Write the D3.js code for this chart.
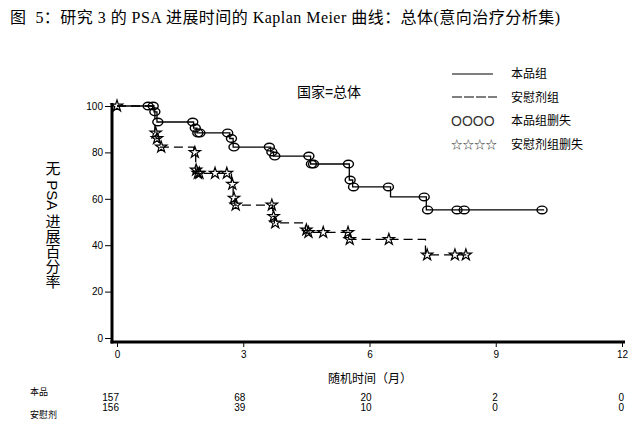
<!DOCTYPE html>
<html><head><meta charset="utf-8">
<script src="https://cdn.jsdelivr.net/npm/d3@7"></script>
<style>body{margin:0;background:#fff}</style>
</head><body><svg id="c" width="643" height="431"></svg>
<script>
const xTicks=[0,3,6,9,12];
const yTicks=[0,20,40,60,80,100];
const trtTimes=[0,0.88,0.95,1.82,1.9,2.68,2.76,3.65,3.72,4.6,5.52,5.6,6.5,7.35];
const trtSurv=[100,97.5,93.1,90.5,88.4,86,82.3,80.2,78.4,75,68.1,65.1,60.8,55.2];
const trtEnd=10.15;
const pboTimes=[0,0.9,0.93,1.0,1.83,1.87,1.9,2.72,2.76,2.8,3.7,3.74,4.48,4.52,5.51,7.33];
const pboSurv=[100,88.4,86,82.3,80,72.4,71,66.3,60.3,57.3,52.4,49.6,46.6,45.5,42.5,35.8];
const pboEnd=8.3;
const trtCens=[0.74,0.86,0.9,0.97,1.8,1.86,1.92,1.97,2.63,2.72,2.78,3.62,3.68,3.75,4.56,4.62,4.67,5.5,5.54,5.62,6.45,7.3,7.38,8.08,8.25,10.1];
const pboCens=[0,0.92,0.95,1.05,1.85,1.88,1.92,1.96,2.33,2.61,2.74,2.78,2.82,3.68,3.72,3.76,4.5,4.55,4.9,5.49,5.53,6.46,7.37,8.03,8.29];
const riskLabels=["本品","安慰剂"];
const riskTrt=[157,68,20,2,0];
const riskPbo=[156,39,10,0,0];
const legendLabels=["本品组","安慰剂组","本品组删失","安慰剂组删失"];

const svg=d3.select("#c");
const x=d3.scaleLinear().domain([0,12]).range([117,622]);
const y=d3.scaleLinear().domain([0,100]).range([338,106]);
const sans='"Liberation Sans", Arial, "Noto Sans CJK SC", sans-serif';
const cjk='"Liberation Sans", "Noto Sans CJK SC", sans-serif';

// title
svg.append("text").attr("x",10).attr("y",23).style("white-space","pre")
  .attr("textLength",550).attr("lengthAdjust","spacing")
  .style("font-family",'"Liberation Serif", "Noto Sans CJK SC", serif').style("font-size","16px")
  .text("图  5：研究 3 的 PSA 进展时间的 Kaplan Meier 曲线：总体(意向治疗分析集)");

// axes
const yAx=svg.append("g").attr("transform",`translate(${x(0)-6},0)`)
  .call(d3.axisLeft(y).tickValues(yTicks).tickSize(6).tickPadding(2));
const xAx=svg.append("g").attr("transform",`translate(0,${y(0)+4})`)
  .call(d3.axisBottom(x).tickValues(xTicks).tickSize(5).tickPadding(4));
[yAx,xAx].forEach(g=>{g.select(".domain").remove();
  g.selectAll("text").style("font-family",sans).style("font-size","10px").attr("fill","#000");
  g.selectAll("line").attr("stroke","#000");});
svg.append("line").attr("x1",x(0)-5).attr("x2",x(0)-5).attr("y1",y(100)-3).attr("y2",y(0)+5.5)
  .attr("stroke","#000").attr("stroke-width",3);
svg.append("line").attr("x1",x(0)-6.5).attr("x2",x(12)+3).attr("y1",y(0)+4).attr("y2",y(0)+4)
  .attr("stroke","#000").attr("stroke-width",3);

// curves
function stepFn(times,surv){return t=>{let v=surv[0];for(let i=0;i<times.length;i++){if(times[i]<=t)v=surv[i];}return v;};}
const line=d3.line().x(d=>x(d[0])).y(d=>y(d[1])).curve(d3.curveStepAfter);
function pts(times,surv,end){const p=times.map((t,i)=>[t,surv[i]]);p.push([end,surv[surv.length-1]]);return p;}
svg.append("path").attr("d",line(pts(trtTimes,trtSurv,trtEnd))).attr("fill","none").attr("stroke","#000").attr("stroke-width",1.3);
svg.append("path").attr("d",line(pts(pboTimes,pboSurv,pboEnd))).attr("fill","none").attr("stroke","#000").attr("stroke-width",1.3).attr("stroke-dasharray","9,5");

const sT=stepFn(trtTimes,trtSurv), sP=stepFn(pboTimes,pboSurv);
svg.append("g").selectAll("ellipse").data(trtCens).join("ellipse")
  .attr("cx",d=>x(d)).attr("cy",d=>y(sT(d))).attr("rx",5).attr("ry",3.8)
  .attr("fill","none").attr("stroke","#000").attr("stroke-width",1.4);
const star=d3.symbol().type(d3.symbolStar).size(40);
svg.append("g").selectAll("path").data(pboCens).join("path")
  .attr("transform",d=>`translate(${x(d)},${y(sP(d))})`).attr("d",star)
  .attr("fill","none").attr("stroke","#000").attr("stroke-width",1.2);

// annotation
svg.append("text").attr("x",329).attr("y",97).attr("text-anchor","middle")
  .style("font-family",cjk).style("font-size","14px").text("国家=总体");

// legend
const lg=svg.append("g");
lg.append("line").attr("x1",452).attr("x2",493).attr("y1",74).attr("y2",74).attr("stroke","#000").attr("stroke-width",1.2);
lg.append("line").attr("x1",452).attr("x2",497).attr("y1",97).attr("y2",97).attr("stroke","#000").attr("stroke-width",1.2).attr("stroke-dasharray","10,2");
lg.append("text").attr("x",451).attr("y",126).style("font-family",sans).style("font-size","14px").attr("fill","#333").text("OOOO");
lg.append("text").attr("x",451).attr("y",149).style("font-family",'"Noto Sans CJK SC", sans-serif').style("font-size","11.5px").attr("fill","#333").text("☆☆☆☆");
lg.selectAll("text.l").data(legendLabels).join("text").attr("class","l")
  .attr("x",511).attr("y",(d,i)=>78+i*23.5).style("font-family",cjk).style("font-size","12px").text(d=>d);

// y label vertical
svg.append("text").attr("x",52).attr("y",161)
  .style("writing-mode","vertical-rl").style("font-family",cjk).style("font-size","15px")
  .text("无 PSA 进展百分率");

// x label
svg.append("text").attr("x",370).attr("y",383).attr("text-anchor","middle")
  .style("font-family",cjk).style("font-size","12px").text("随机时间（月）");

// risk table
svg.append("text").attr("x",30).attr("y",395).style("font-family",cjk).style("font-size","9px").text(riskLabels[0]);
svg.append("text").attr("x",30).attr("y",418).style("font-family",cjk).style("font-size","9px").text(riskLabels[1]);
svg.append("g").selectAll("text").data(riskTrt).join("text")
  .attr("x",(d,i)=>x(xTicks[i])+2).attr("y",401).attr("text-anchor","end")
  .style("font-family",sans).style("font-size","10px").text(d=>d);
svg.append("g").selectAll("text").data(riskPbo).join("text")
  .attr("x",(d,i)=>x(xTicks[i])+2).attr("y",411).attr("text-anchor","end")
  .style("font-family",sans).style("font-size","10px").text(d=>d);
</script></body></html>
